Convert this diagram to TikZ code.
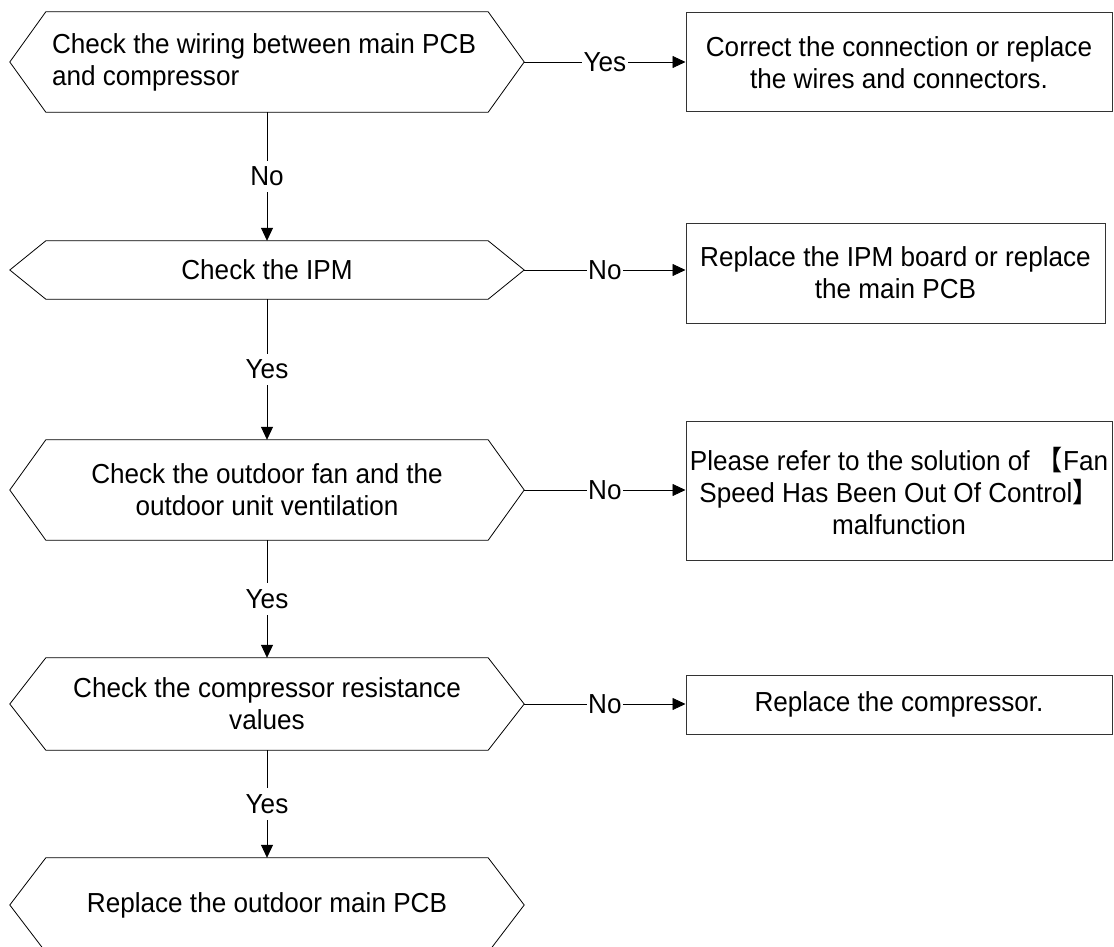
\documentclass[tikz,border=0pt]{standalone}
\usepackage{fontspec}
\setmainfont[FakeStretch=0.95]{Liberation Sans}
\newfontfamily\cjk[FakeStretch=0.95]{Noto Sans CJK SC}
\usetikzlibrary{arrows.meta}

\begin{document}
\begin{tikzpicture}[x=1pt,y=-1pt]
\tikzstyle{every node}=[font=\fontsize{27.5}{32}\selectfont, inner sep=0pt]
\tikzstyle{hexbox}=[minimum width=442pt, align=center]
\tikzstyle{fixbox}=[draw=black!80, line width=1pt, minimum width=426pt, align=center]
\tikzstyle{lbl}=[fill=white, inner xsep=1.5pt, inner ysep=6pt]
\tikzstyle{arr}=[line width=0.8pt, -{Triangle[length=13pt,width=12pt]}]
\useasboundingbox (0,0) rectangle (1114,947);
\clip (0,0) rectangle (1114,947);
% checks
\draw (267,62) node (c1) [hexbox, minimum height=100pt, text width=430pt, align=left] {\spaceskip=0pt Check the wiring between main PCB\\and compressor};
\draw (267,270) node (c2) [hexbox, minimum height=58pt] {Check the IPM};
\draw (267,490) node (c3) [hexbox, minimum height=100pt] {Check the outdoor fan and the\\outdoor unit ventilation};
\draw (267,704) node (c4) [hexbox, minimum height=92pt] {Check the compressor resistance\\values};
\draw (267,905) node (c5) [hexbox, minimum height=94pt] {Replace the outdoor main PCB};
\foreach \n in {1,...,5}
  \draw[line width=0.8pt] (c\n.north west) -- (c\n.north east) -- ([xshift=36pt]c\n.east) coordinate (t\n)
    -- (c\n.south east) -- (c\n.south west) -- ([xshift=-36pt]c\n.west) -- cycle;
% fixes
\draw (899,62.5) node (b1) [fixbox, minimum height=99pt] {Correct the connection or replace\\the wires and connectors.};
\draw (895.5,273) node (b2) [fixbox, minimum width=419pt, minimum height=100pt] {Replace the IPM board or replace\\the main PCB};
\draw (899,490.5) node (b3) [fixbox, minimum height=139pt] {Please refer to the solution of {\cjk【}Fan\\Speed Has Been Out Of Control{\cjk】}\\malfunction};
\draw (899,704.5) node (b4) [fixbox, minimum height=59pt] {Replace the compressor.};
% connectors
\draw[arr] (t1) -- node[lbl] {Yes} (t1 -| b1.west);
\draw[arr] (t2) -- node[lbl] {No} (t2 -| b2.west);
\draw[arr] (t3) -- node[lbl] {No} (t3 -| b3.west);
\draw[arr] (t4) -- node[lbl] {No} (t4 -| b4.west);
\draw[arr] (c1.south) -- node[lbl] {No} (c2.north);
\draw[arr] (c2.south) -- node[lbl] {Yes} (c3.north);
\draw[arr] (c3.south) -- node[lbl] {Yes} (c4.north);
\draw[arr] (c4.south) -- node[lbl] {Yes} (c5.north);
\end{tikzpicture}
\end{document}
